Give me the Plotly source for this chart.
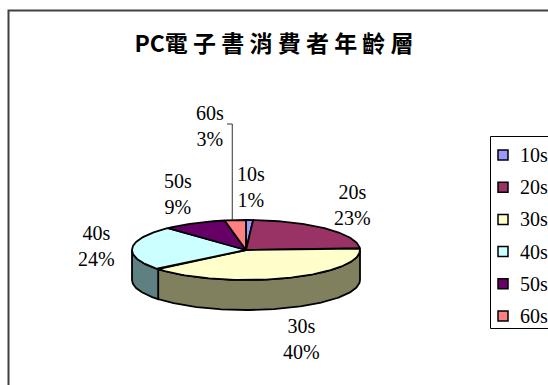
import numpy as np
import plotly.graph_objects as go

# ---- data ----
categories = ["10s", "20s", "30s", "40s", "50s", "60s"]
values = [1, 23, 40, 24, 9, 3]
title_text = "PC電 子 書 消 費 者 年 齡 層"

# ---- styles ----
colors = ["#9999FF", "#993366", "#FFFFCC", "#CCFFFF", "#660066", "#FF8080"]
side_colors = ["#4d4d80", "#4d1a33", "#80805f", "#5f8080", "#330033", "#804040"]
W, H = 548, 385
CX, CY, RX, RY, DEPTH = 246, 250, 114, 30, 30
SERIF = "Liberation Serif, Times New Roman, DejaVu Serif, serif"
LABEL_FONT = dict(family=SERIF, size=20, color="black")
label_override = {"60s": (210, 126)}
# legend box geometry (pixels)
LEG_X0, LEG_Y0, LEG_Y1 = 490, 136, 328
LEG_FIRST, LEG_STEP = 155, 32.2
LEG_SYM_X, LEG_TXT_X = 503, 518

total = float(sum(values))
bounds = np.concatenate([[0], np.cumsum(values)]) / total * 360.0


def arc(a, b, dy=0.0, n=None):
    if n is None:
        n = max(2, int(abs(b - a) / 1.0) + 2)
    t = np.radians(np.linspace(a, b, n))
    return CX + RX * np.sin(t), CY - RY * np.cos(t) + dy


fig = go.Figure()

# side walls (front half: 90..270 degrees clockwise from top)
for i, cat in enumerate(categories):
    a, b = bounds[i], bounds[i + 1]
    lo, hi = max(a, 90.0), min(b, 270.0)
    if hi <= lo:
        continue
    xt, yt = arc(lo, hi)
    xb, yb = arc(hi, lo, dy=DEPTH)
    xs = np.concatenate([xt, xb, xt[:1]])
    ys = np.concatenate([yt, yb, yt[:1]])
    fig.add_trace(go.Scatter(x=xs, y=ys, mode="lines", fill="toself",
                             fillcolor=side_colors[i],
                             line=dict(color="black", width=1.8),
                             showlegend=False, hoverinfo="skip"))

# top faces
for i, cat in enumerate(categories):
    a, b = bounds[i], bounds[i + 1]
    xa, ya = arc(a, b)
    xs = np.concatenate([[CX], xa, [CX]])
    ys = np.concatenate([[CY], ya, [CY]])
    fig.add_trace(go.Scatter(x=xs, y=ys, mode="lines", fill="toself",
                             fillcolor=colors[i],
                             line=dict(color="black", width=1.8),
                             showlegend=False, name=cat,
                             hovertemplate=f"{cat}: {values[i]}%<extra></extra>"))

annotations = []
shapes = []

# legend box (drawn like the Excel legend)
shapes.append(dict(type="rect", xref="x", yref="y", x0=LEG_X0 + 0.5, y0=LEG_Y0 + 0.5,
                   x1=W + 20, y1=LEG_Y1 + 0.5, line=dict(color="black", width=1),
                   fillcolor="white", layer="below"))
leg_y = [LEG_FIRST + i * LEG_STEP for i in range(len(categories))]
fig.add_trace(go.Scatter(x=[LEG_SYM_X] * len(categories), y=leg_y, mode="markers",
                         marker=dict(symbol="square", size=10, color=colors,
                                     line=dict(color="black", width=1.5)),
                         showlegend=False, hoverinfo="skip"))
for i, cat in enumerate(categories):
    annotations.append(dict(x=LEG_TXT_X, y=leg_y[i], xref="x", yref="y", showarrow=False,
                            xanchor="left", yanchor="middle", text=cat, font=LABEL_FONT))

# data labels
for i, cat in enumerate(categories):
    mid = np.radians((bounds[i] + bounds[i + 1]) / 2)
    pct = int(round(values[i] / total * 100))
    if cat in label_override:
        lx, ly = label_override[cat]
        ax_, ay_ = CX + RX * np.sin(mid), CY - RY * np.cos(mid)
        lead_x = ax_ - 3
        shapes.append(dict(type="path", xref="x", yref="y",
                           path=f"M {lx + 17} {ly - 2} L {lead_x} {ly - 2} L {lead_x} {ay_}",
                           line=dict(color="#333333", width=1)))
    else:
        lx = CX + (RX + 36) * np.sin(mid)
        ly = CY - (RY + 33) * np.cos(mid) + (DEPTH if np.cos(mid) < 0 else 0)
    annotations.append(dict(x=lx, y=ly, xref="x", yref="y", showarrow=False,
                            text=f"{cat}<br>{pct}%", align="center",
                            font=LABEL_FONT))

# chart border
shapes.append(dict(type="rect", xref="x", yref="y", x0=8.5, y0=10.5, x1=W + 20, y1=H + 20,
                   line=dict(color="#404040", width=2)))

fig.update_layout(
    width=W, height=H, autosize=False,
    margin=dict(l=0, r=0, t=0, b=0, autoexpand=False),
    paper_bgcolor="white", plot_bgcolor="white",
    title=dict(text=title_text, x=274 / W, xanchor="center", y=1 - 44 / H, yanchor="middle",
               font=dict(family="Noto Sans CJK TC", size=23, color="black", weight="bold")),
    xaxis=dict(range=[0, W], visible=False, fixedrange=True),
    yaxis=dict(range=[H, 0], visible=False, fixedrange=True),
    annotations=annotations,
    shapes=shapes,
    showlegend=False,
)

fig.write_html("out.html")
